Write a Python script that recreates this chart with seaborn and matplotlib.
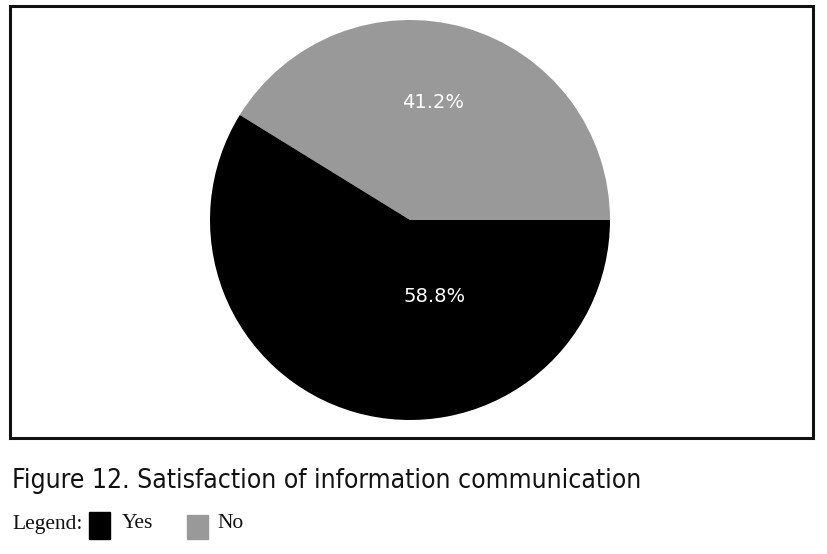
"""Pie chart: satisfaction of information communication (Figure 12)."""

import matplotlib.pyplot as plt
import seaborn as sns
from matplotlib.patches import Rectangle

# --- Data -----------------------------------------------------------------
categories = ["No", "Yes"]
shares = [41.2, 58.8]
colors = ["#999999", "#000000"]
label_pos = [(0.115, 0.585), (0.125, -0.385)]  # label anchors in pie units

TITLE = "Figure 12. Satisfaction of information communication"

sns.set_theme(style="white")
plt.rcParams["font.family"] = ["DejaVu Sans"]

W, H = 827, 554
fig = plt.figure(figsize=(W / 100, H / 100), dpi=100)

# frame around the chart area
fig.patches.append(Rectangle((10 / W, 1 - 438 / H), 803 / W, 432 / H,
                             transform=fig.transFigure, fill=False,
                             edgecolor="#111111", linewidth=2.2))

# pie axes: centre (410, 220), radius 200 px
ax = fig.add_axes([210 / W, 1 - 420 / H, 400 / W, 400 / H])
ax.pie(shares, colors=colors, startangle=0, counterclock=True, radius=1,
       wedgeprops=dict(linewidth=0))
ax.set_xlim(-1, 1)
ax.set_ylim(-1, 1)
ax.set_aspect("auto")
ax.axis("off")

for (x, y), v in zip(label_pos, shares):
    ax.text(x, y, f"{v:.1f}%", color="white", fontsize=14,
            ha="center", va="center")

# caption and legend below the frame
fig.text(12 / W, 1 - 481 / H, TITLE, fontsize=19, fontstretch="condensed",
         ha="left", va="center", color="#111111")
fig.text(12 / W, 1 - 524 / H, "Legend:", family="Liberation Serif",
         fontsize=15.5, ha="left", va="center", color="#111111")
fig.patches.append(Rectangle((89 / W, 1 - 539 / H), 21 / W, 27 / H,
                             transform=fig.transFigure, color=colors[1]))
fig.text(122 / W, 1 - 524 / H, categories[1], family="Liberation Serif",
         fontsize=15.5, ha="left", va="center", color="#111111")
fig.patches.append(Rectangle((187 / W, 1 - 539 / H), 21 / W, 24 / H,
                             transform=fig.transFigure, color=colors[0]))
fig.text(217 / W, 1 - 524 / H, categories[0], family="Liberation Serif",
         fontsize=15.5, ha="left", va="center", color="#111111")

fig.savefig("out.png", dpi=100)
